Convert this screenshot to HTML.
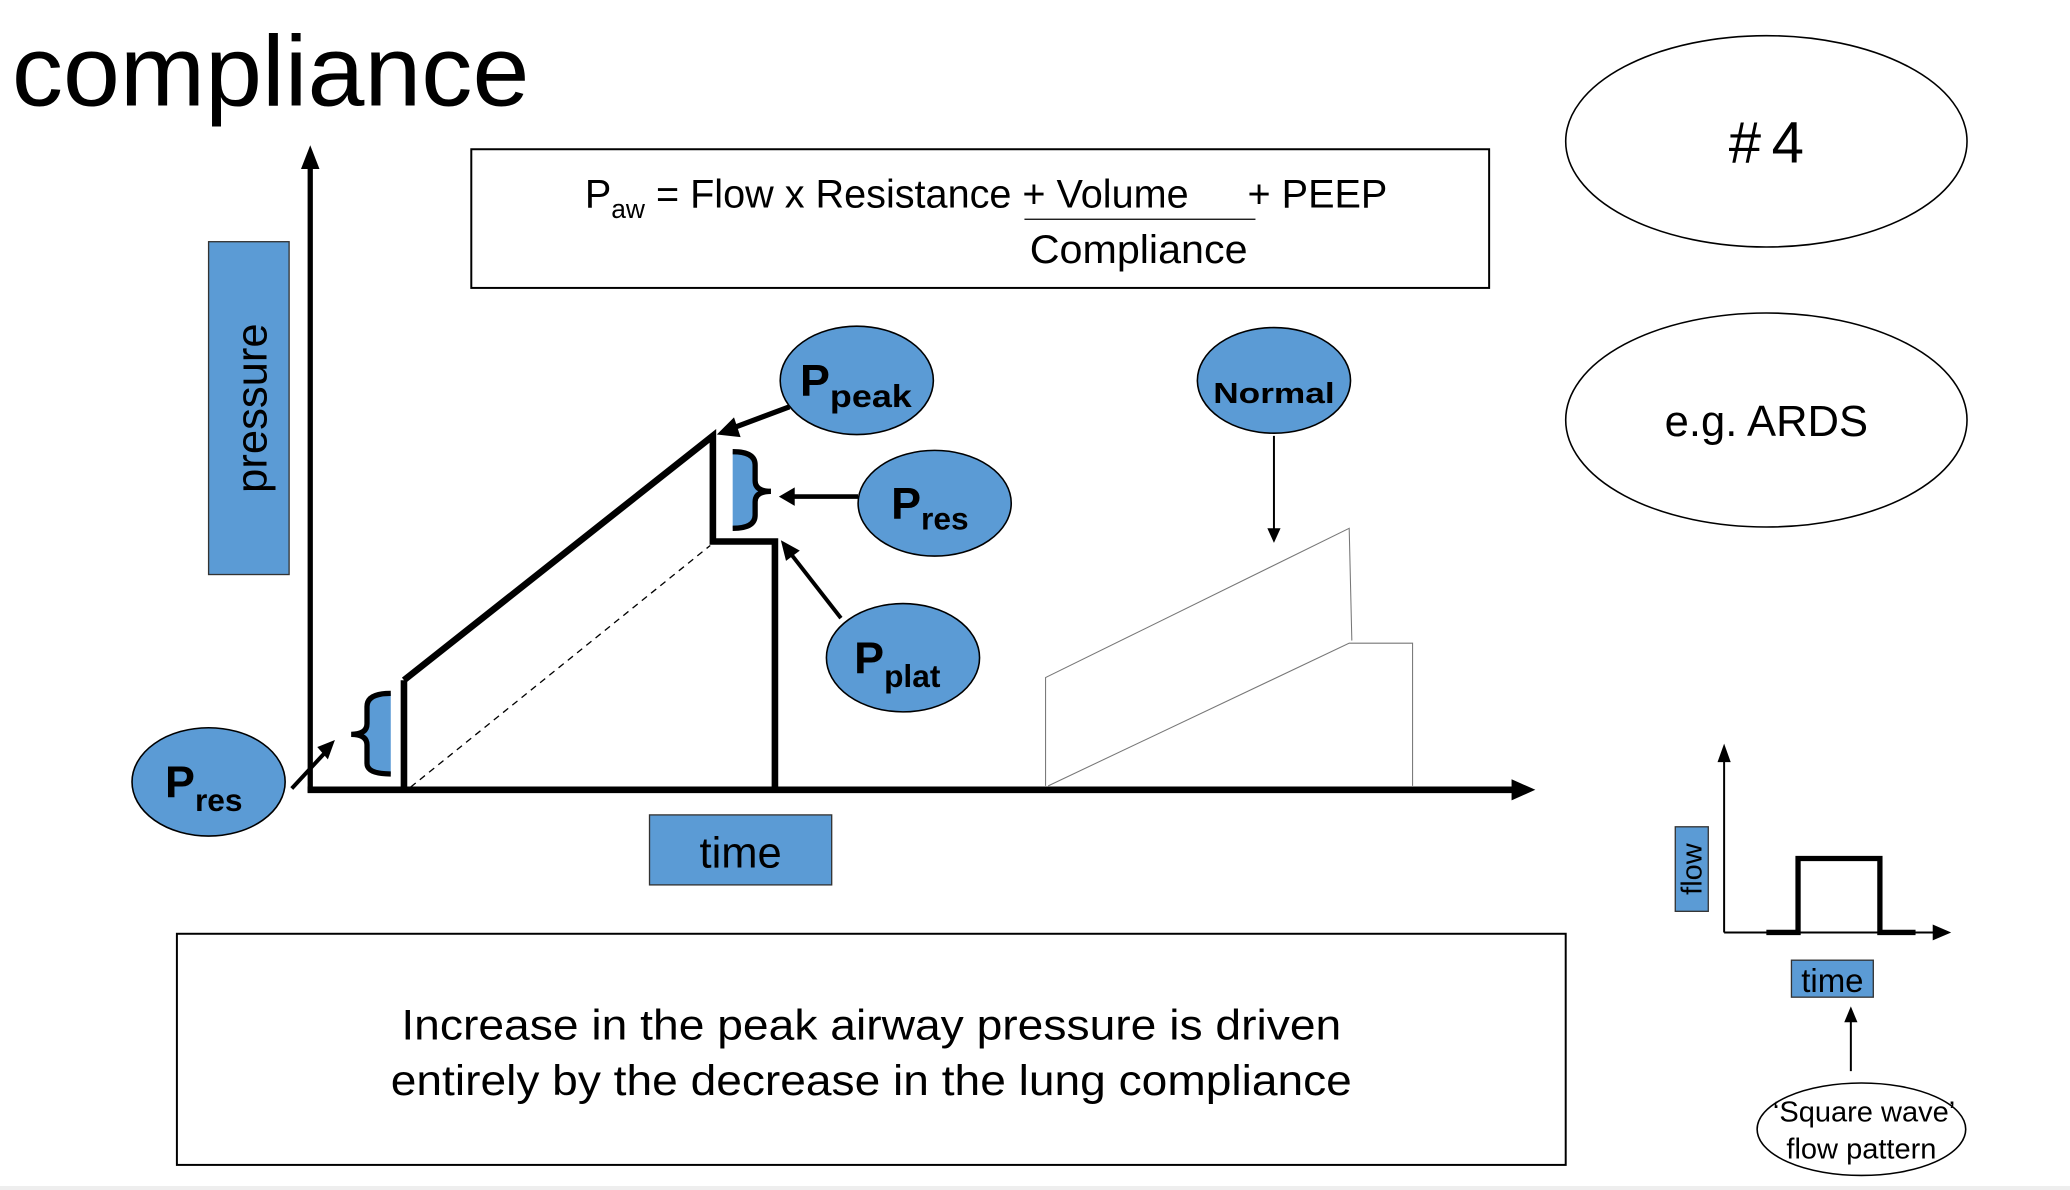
<!DOCTYPE html>
<html><head><meta charset="utf-8"><style>
html,body{margin:0;padding:0;background:#fff;width:2070px;height:1190px;overflow:hidden}
svg{display:block}
text{font-family:"Liberation Sans",sans-serif}
.n{font-family:"Liberation Sans Narrow","Liberation Sans",sans-serif}
</style></head><body>
<svg width="2070" height="1190" viewBox="0 0 1568 901" preserveAspectRatio="none" xmlns="http://www.w3.org/2000/svg">
<rect x="0" y="898" width="1568" height="3" fill="#eee"/>
<text x="9" y="80" font-size="76" textLength="392" lengthAdjust="spacingAndGlyphs">compliance</text>

<rect x="357" y="113" width="771" height="105" fill="none" stroke="#000" stroke-width="1.5"/>
<text class="n" x="443" y="157" font-size="30">P<tspan font-size="20" dy="8">aw</tspan><tspan dy="-8"> = Flow x Resistance + Volume</tspan></text>
<text class="n" x="945" y="157" font-size="30">+ PEEP</text>
<line x1="776" y1="166" x2="951" y2="166" stroke="#000" stroke-width="1"/>
<text class="n" x="780" y="199" font-size="30" textLength="165" lengthAdjust="spacingAndGlyphs">Compliance</text>

<rect x="158" y="183" width="61" height="252" fill="#5b9bd5" stroke="#333" stroke-width="1"/>
<text transform="translate(202,309) rotate(-90)" text-anchor="middle" font-size="33">pressure</text>

<line x1="235" y1="600" x2="235" y2="128" stroke="#000" stroke-width="4"/>
<path d="M228,128 L235,110 L242,128 z"/>
<line x1="233" y1="598" x2="1148" y2="598" stroke="#000" stroke-width="5"/>
<path d="M1145,590 L1163,598 L1145,606 z"/>

<rect x="492" y="617" width="138" height="53" fill="#5b9bd5" stroke="#333" stroke-width="1"/>
<text x="561" y="657" text-anchor="middle" font-size="33">time</text>

<path d="M792,595 L792,513 L1022,400 L1024,485" fill="none" stroke="#777" stroke-width="0.8"/>
<path d="M794,595 L1022,487 L1070,487 L1070,595" fill="none" stroke="#777" stroke-width="0.8"/>

<line x1="306" y1="598" x2="306" y2="515" stroke="#000" stroke-width="5"/>
<path d="M306,515 L540,330 L540,410 L587,410 L587,598" fill="none" stroke="#000" stroke-width="5" stroke-linejoin="miter"/>
<line x1="311" y1="596" x2="538" y2="413" stroke="#000" stroke-width="1" stroke-dasharray="5,4"/>

<path d="M296,525 Q278,525 278,535 L278,548 Q278,556 270,556 Q278,556 278,564 L278,578 Q278,586 296,586 z" fill="#5b9bd5"/>
<path d="M296,525 Q278,525 278,535 L278,548 Q278,556 266,556 M266,556 Q278,556 278,564 L278,578 Q278,586 296,586" fill="none" stroke="#000" stroke-width="4"/>
<path d="M555,342 Q572,342 572,352 L572,364 Q572,372 582,372 Q572,372 572,380 L572,390 Q572,400 555,400 z" fill="#5b9bd5"/>
<path d="M555,342 Q572,342 572,352 L572,364 Q572,372 584,372 M584,372 Q572,372 572,380 L572,390 Q572,400 555,400" fill="none" stroke="#000" stroke-width="4"/>

<line x1="598" y1="308" x2="550" y2="326" stroke="#000" stroke-width="4"/>
<path d="M556,316 L543,329 L561,331 z"/>
<line x1="650" y1="376" x2="600" y2="376" stroke="#000" stroke-width="3.5"/>
<path d="M602,369 L590,376 L602,383 z"/>
<line x1="637" y1="468" x2="598" y2="418" stroke="#000" stroke-width="3"/>
<path d="M593,411 L604,417 L596,423 z" stroke="#000" stroke-width="2"/>
<line x1="965" y1="330" x2="965" y2="402" stroke="#000" stroke-width="1.5"/>
<path d="M960,400 L965,411 L970,400 z"/>
<line x1="221" y1="597" x2="247" y2="569" stroke="#000" stroke-width="3"/>
<path d="M242,566 L252,562 L248,573 z" stroke="#000" stroke-width="2"/>

<g stroke="#000" stroke-width="1.2" fill="#5b9bd5">
<ellipse cx="649" cy="288" rx="58" ry="41"/>
<ellipse cx="708" cy="381" rx="58" ry="40"/>
<ellipse cx="684" cy="498" rx="58" ry="41"/>
<ellipse cx="965" cy="288" rx="58" ry="40"/>
<ellipse cx="158" cy="592" rx="58" ry="41"/>
</g>
<g font-weight="bold">
<text x="606" y="300" font-size="34">P<tspan font-size="24" dy="8" textLength="62" lengthAdjust="spacingAndGlyphs">peak</tspan></text>
<text x="675" y="393" font-size="34">P<tspan font-size="24" dy="8">res</tspan></text>
<text x="647" y="510" font-size="34">P<tspan font-size="24" dy="10">plat</tspan></text>
<text x="965" y="305" font-size="22" text-anchor="middle" textLength="92" lengthAdjust="spacingAndGlyphs">Normal</text>
<text x="125" y="604" font-size="34">P<tspan font-size="24" dy="10">res</tspan></text>
</g>

<ellipse cx="1338" cy="107" rx="152" ry="80" fill="none" stroke="#000" stroke-width="1.2"/>
<text x="1338" y="123" text-anchor="middle" font-size="44">#<tspan dx="8">4</tspan></text>
<ellipse cx="1338" cy="318" rx="152" ry="81" fill="none" stroke="#000" stroke-width="1.2"/>
<text x="1338" y="330" text-anchor="middle" font-size="33">e.g. ARDS</text>

<line x1="1306" y1="706" x2="1306" y2="575" stroke="#000" stroke-width="1.5"/>
<path d="M1301,577 L1306,563 L1311,577 z"/>
<line x1="1306" y1="706" x2="1466" y2="706" stroke="#000" stroke-width="1.5"/>
<path d="M1464,700 L1478,706 L1464,712 z"/>
<path d="M1338,706 L1362,706 L1362,650 L1424,650 L1424,706 L1451,706" fill="none" stroke="#000" stroke-width="4"/>
<rect x="1269" y="626" width="25" height="64" fill="#5b9bd5" stroke="#333" stroke-width="1"/>
<text transform="translate(1289,658) rotate(-90)" text-anchor="middle" font-size="22">flow</text>
<rect x="1357" y="727" width="62" height="28" fill="#5b9bd5" stroke="#333" stroke-width="1"/>
<text class="n" x="1388" y="751" text-anchor="middle" font-size="25">time</text>
<line x1="1402" y1="811" x2="1402" y2="772" stroke="#000" stroke-width="1.5"/>
<path d="M1397,774 L1402,762 L1407,774 z"/>
<ellipse cx="1410" cy="855" rx="79" ry="35" fill="none" stroke="#000" stroke-width="1.2"/>
<text class="n" x="1412" y="849" text-anchor="middle" font-size="22">‘Square wave’</text>
<text class="n" x="1410" y="877" text-anchor="middle" font-size="22">flow pattern</text>

<rect x="134" y="707" width="1052" height="175" fill="none" stroke="#000" stroke-width="1.5"/>
<text x="304" y="787" font-size="32" textLength="712" lengthAdjust="spacingAndGlyphs">Increase in the peak airway pressure is driven</text>
<text x="296" y="829" font-size="32" textLength="728" lengthAdjust="spacingAndGlyphs">entirely by the decrease in the lung compliance</text>
</svg>
</body></html>
